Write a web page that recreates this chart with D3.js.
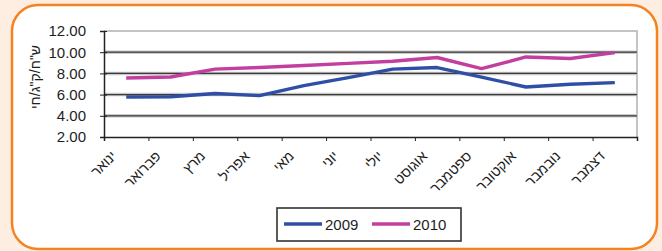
<!DOCTYPE html>
<html>
<head>
<meta charset="utf-8">
<script src="https://cdn.jsdelivr.net/npm/d3@7"></script>
<style>
  html, body { margin: 0; padding: 0; background: #fdeee1; }
  svg { display: block; }
  text { font-family: "Liberation Sans", Arial, sans-serif; fill: #1e1e1e; }
</style>
</head>
<body>
<div id="chart"></div>
<script>
const months = ['ינואר', 'פברואר', 'מרץ', 'אפריל', 'מאי', 'יוני', 'יולי', 'אוגוסט', 'ספטמבר', 'אוקטובר', 'נובמבר', 'דצמבר'];
const values2009 = [5.77, 5.8, 6.1, 5.9, 6.85, 7.6, 8.4, 8.55, 7.65, 6.72, 6.97, 7.13];
const values2010 = [7.57, 7.66, 8.4, 8.55, 8.75, 8.95, 9.15, 9.5, 8.45, 9.55, 9.4, 9.96];
const yTicks = [2, 4, 6, 8, 10, 12];
const yLabel = 'ש"ח/ק"ג/חי';
const seriesNames = ['2009', '2010'];
const colors = ['#2f4ea5', '#c23f9f'];

const W = 662, H = 251;
const plot = { left: 104, right: 637, top: 31, bottom: 137 };

const svg = d3.select('#chart').append('svg')
  .attr('width', W)
  .attr('height', H);

// frame
svg.append('rect')
  .attr('x', 12).attr('y', 5)
  .attr('width', 645).attr('height', 244)
  .attr('rx', 26).attr('ry', 26)
  .attr('fill', '#fff')
  .attr('stroke', '#f5821f')
  .attr('stroke-width', 2.5);

const x = d3.scaleBand()
  .domain(months)
  .range([plot.left, plot.right]);

const xi = d3.scaleLinear()
  .domain([0, months.length])
  .range([plot.left, plot.right]);

const y = d3.scaleLinear()
  .domain([2, 12])
  .range([plot.bottom, plot.top]);

// plot border (right + top)
svg.append('path')
  .attr('d', `M${plot.left},${y(12)}H${plot.right}V${plot.bottom}`)
  .attr('fill', 'none')
  .attr('stroke', '#c4c4c4')
  .attr('stroke-width', 2);

// gridlines: soft halo + dark core
const grid = svg.append('g');
const gridVals = yTicks.filter(d => d > 2 && d < 12);
[['#c8c8c8', 3.5], ['#3a3a3a', 1.3]].forEach(([c, w]) => {
  grid.append('g')
    .selectAll('line')
    .data(gridVals)
    .enter().append('line')
    .attr('x1', plot.left)
    .attr('x2', plot.right)
    .attr('y1', d => y(d))
    .attr('y2', d => y(d))
    .attr('stroke', c)
    .attr('stroke-width', w);
});

// y axis
const yAxis = svg.append('g')
  .attr('transform', `translate(${plot.left},0)`)
  .call(d3.axisLeft(y).tickValues(yTicks).tickFormat(d3.format('.2f')).tickSize(4).tickPadding(14));
yAxis.selectAll('text').style('font-size', '15px');
yAxis.selectAll('line').attr('stroke', '#222').attr('x2', -4).attr('x1', 3);
yAxis.select('.domain').attr('stroke', '#222').attr('stroke-width', 1.5);

// x axis
const xAxis = svg.append('g')
  .attr('transform', `translate(0,${plot.bottom})`)
  .call(d3.axisBottom(xi).ticks(months.length).tickFormat('').tickSize(4).tickSizeOuter(4));
xAxis.selectAll('line').attr('stroke', '#222');
xAxis.select('.domain').attr('stroke', '#222').attr('stroke-width', 1.5);

// x labels
svg.append('g')
  .selectAll('text')
  .data(months)
  .enter().append('text')
  .attr('transform', d => `translate(${x(d) + x.bandwidth() / 2 - 9},157) rotate(-45)`)
  .attr('text-anchor', 'end')
  .style('font-size', '14px')
  .text(d => d);

// y label
svg.append('text')
  .attr('transform', 'translate(40,77) rotate(-90)')
  .attr('text-anchor', 'middle')
  .style('font-size', '14px')
  .text(yLabel);

// lines
const line = d3.line()
  .x((d, i) => x(months[i]) + x.bandwidth() / 2)
  .y(d => y(d));

[values2009, values2010].forEach((vals, i) => {
  svg.append('path')
    .datum(vals)
    .attr('fill', 'none')
    .attr('stroke', colors[i])
    .attr('stroke-width', 3.4)
    .attr('stroke-linejoin', 'round')
    .attr('d', line);
});

// legend
const legend = svg.append('g');
legend.append('rect')
  .attr('x', 277).attr('y', 208)
  .attr('width', 184).attr('height', 33)
  .attr('fill', '#fff')
  .attr('stroke', '#333')
  .attr('stroke-width', 1.6);

seriesNames.forEach((name, i) => {
  const lx = 284 + i * 88;
  legend.append('line')
    .attr('x1', lx).attr('x2', lx + 38)
    .attr('y1', 224).attr('y2', 224)
    .attr('stroke', colors[i])
    .attr('stroke-width', 3.4);
  legend.append('text')
    .attr('x', lx + 41)
    .attr('y', 230)
    .style('font-size', '15px')
    .text(name);
});
</script>
</body>
</html>
